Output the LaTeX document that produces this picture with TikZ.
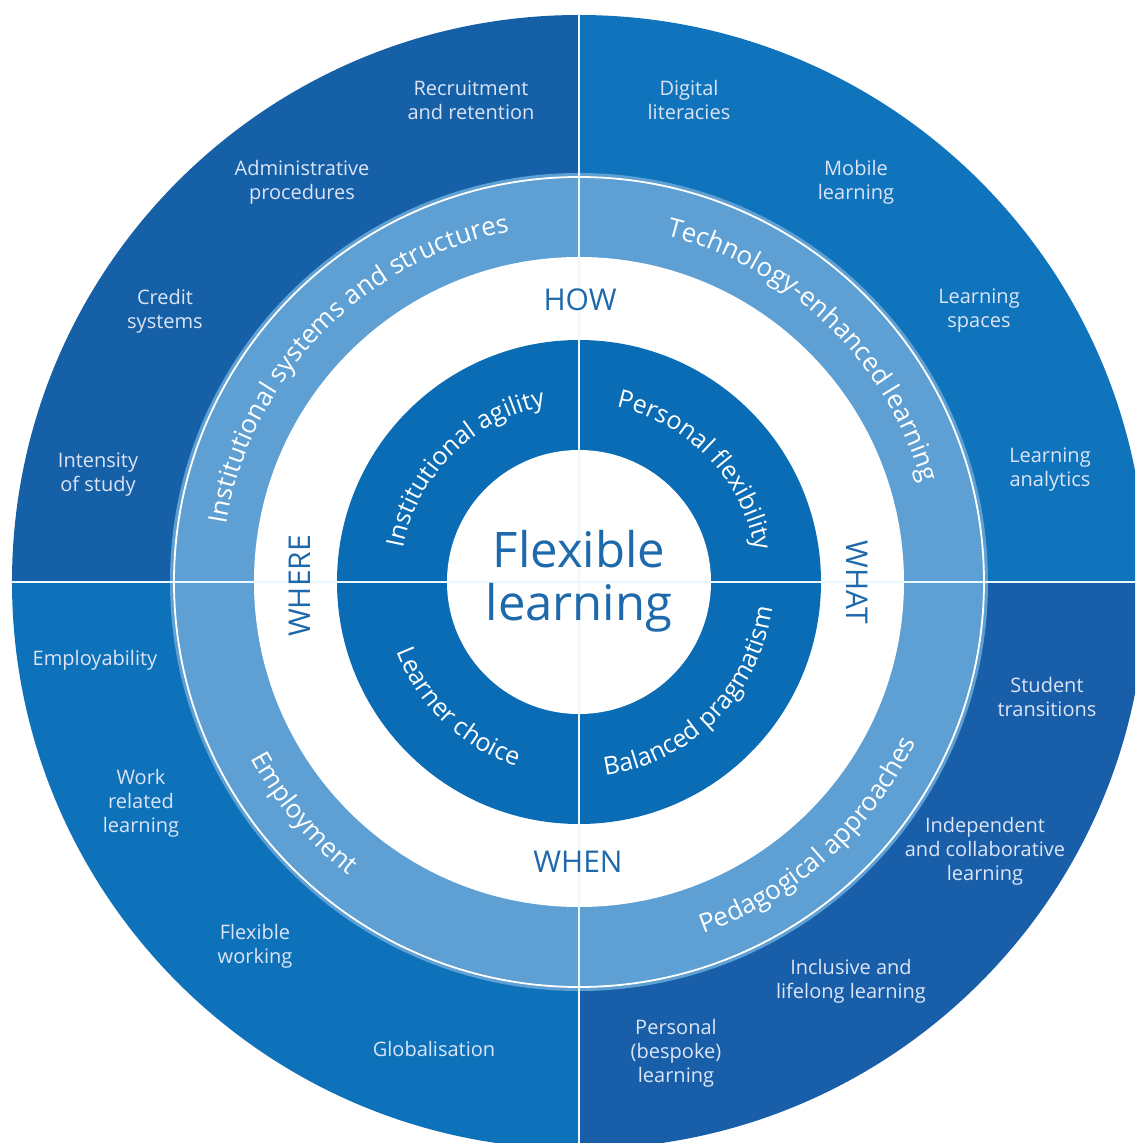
\documentclass[tikz,border=0pt]{standalone}
\usepackage{fontspec}
\setmainfont{Open Sans}
\usetikzlibrary{decorations.text}

\definecolor{tlblue}{HTML}{1660A8}
\definecolor{trblue}{HTML}{0F74BC}
\definecolor{blblue}{HTML}{0E72BA}
\definecolor{brblue}{HTML}{185EA8}
\definecolor{bandblue}{HTML}{5EA0D4}
\definecolor{coreblue}{HTML}{0A6CB4}
\definecolor{labeltext}{HTML}{DCE4F6}
\definecolor{wordblue}{HTML}{1E69AC}

\newcommand{\ringfont}{\fontsize{26}{26}\selectfont}
\newcommand{\corefont}{\fontsize{25}{25}\selectfont}

\begin{document}
\begin{tikzpicture}[x=1pt,y=1pt,
  outerlabel/.style={text=labeltext,align=center,font=\fontsize{20}{24}\selectfont},
  quarter/.style={text=wordblue,font=\fontsize{30}{30}\selectfont},
  ringtext/.style={decorate,decoration={text along path,text align=center,text color=white,text={|\ringfont|#1}}},
  coretext/.style={decorate,decoration={text along path,text align=center,text color=white,text={|\corefont|#1}}},
  divider/.style={draw=white!92!cyan,line width=2.5pt}]
  \useasboundingbox (-579,-561) rectangle (556,582);
  \clip (-579,-561) rectangle (556,582);

  %outer ring
  \fill[tlblue] (0,0) -- (180:567) arc[start angle=180,end angle=90,radius=567] -- cycle;
  \fill[trblue] (0,0) -- (90:567) arc[start angle=90,end angle=0,radius=567] -- cycle;
  \fill[brblue] (0,0) -- (0:567) arc[start angle=0,end angle=-90,radius=567] -- cycle;
  \fill[blblue] (0,0) -- (-90:567) arc[start angle=-90,end angle=-180,radius=567] -- cycle;

  %band, white ring, core
  \fill[bandblue] (0,0) circle[radius=409];
  \draw[white,line width=1.8pt] (0,0) circle[radius=405];
  \fill[white] (0,0) circle[radius=325];
  \fill[coreblue] (0,0) circle[radius=242];
  \fill[white] (0,0) circle[radius=132];

  \draw[divider] (0,567) -- (0,-567);
  \draw[divider] (-567,0) -- (567,0);

  %centre
  \node[text=wordblue,align=center,font=\fontsize{49}{53}\selectfont] (flex) at (0,1) {Flexible\\learning};

  %core ring
  \path[coretext=Institutional agility] (180:179) arc[start angle=180,end angle=90,radius=179];
  \path[coretext=Personal flexibility] (89:179) arc[start angle=89,end angle=-1,radius=179];
  \path[coretext=Learner choice] (181:195) arc[start angle=181,end angle=271,radius=195];
  \path[coretext=Balanced pragmatism] (-90:195) arc[start angle=-90,end angle=0,radius=195];

  \node[quarter] (how) at (1,282) {HOW};
  \node[quarter,rotate=-90] (what) at (278,0) {WHAT};
  \node[quarter] (when) at (-1,-280) {WHEN};
  \node[quarter,rotate=90] (where) at (-279,-4) {WHERE};

  %band
  \path[ringtext=Institutional systems and structures] (181:357) arc[start angle=181,end angle=91,radius=357];
  \path[ringtext=Technology-enhanced learning] (91:357) arc[start angle=91,end angle=1,radius=357];
  \path[ringtext=Employment] (175:373) arc[start angle=175,end angle=265,radius=373];
  \path[ringtext=Pedagogical approaches] (-93:373) arc[start angle=-93,end angle=-3,radius=373];

  %top left
  \node[outerlabel] (recruit) at (-108,482) {Recruitment\\and retention};
  \node[outerlabel] (admin) at (-277,400) {Administrative\\procedures};
  \node[outerlabel] (credit) at (-414,271) {Credit\\systems};
  \node[outerlabel] (intensity) at (-481,107) {Intensity\\of study};

  %top right
  \node[outerlabel] (digital) at (110,482) {Digital\\literacies};
  \node[outerlabel] (mobile) at (277,400) {Mobile\\learning};
  \node[outerlabel] (spaces) at (400,271) {Learning\\spaces};
  \node[outerlabel] (analytics) at (471,112) {Learning\\analytics};

  %bottom left
  \node[outerlabel] (employ) at (-484,-78) {Employability};
  \node[outerlabel] (work) at (-438,-221) {Work\\related\\learning};
  \node[outerlabel] (working) at (-324,-364) {Flexible\\working};
  \node[outerlabel] (global) at (-145,-467) {Globalisation};

  %bottom right
  \node[outerlabel] (student) at (468,-115) {Student\\transitions};
  \node[outerlabel] (indep) at (406,-269) {Independent\\and collaborative\\learning};
  \node[outerlabel] (inclusive) at (272,-399) {Inclusive and\\lifelong learning};
  \node[outerlabel] (bespoke) at (97,-471) {Personal\\(bespoke)\\learning};
\end{tikzpicture}
\end{document}
